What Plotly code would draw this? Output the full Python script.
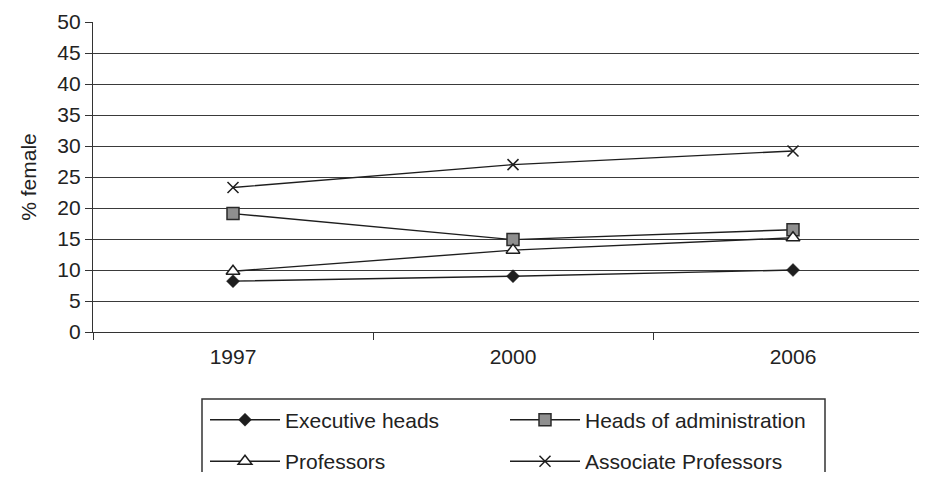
import plotly.graph_objects as go

years = ["1997", "2000", "2006"]
executive_heads = [8.2, 9.0, 10.0]
heads_of_admin = [19.1, 14.9, 16.5]
professors = [9.8, 13.2, 15.2]
associate_professors = [23.3, 27.0, 29.2]
y_ticks = list(range(0, 55, 5))

FONT = "Liberation Sans, Arial, sans-serif"
INK = "#1e1e1e"

fig = go.Figure()

fig.add_trace(go.Scatter(
    x=years, y=executive_heads, name="Executive heads", mode="lines+markers",
    line=dict(color=INK, width=1.4),
    marker=dict(symbol="diamond", size=10, color=INK, line=dict(color=INK, width=0.5)),
    legend="legend",
))
fig.add_trace(go.Scatter(
    x=years, y=heads_of_admin, name="Heads of administration", mode="lines+markers",
    line=dict(color=INK, width=1.4),
    marker=dict(symbol="square", size=12, color="#8f8f8f", line=dict(color="#2a2a2a", width=1.5)),
    legend="legend2",
))
fig.add_trace(go.Scatter(
    x=years, y=professors, name="Professors", mode="lines+markers",
    line=dict(color=INK, width=1.4),
    marker=dict(symbol="triangle-up", size=12, color="white", line=dict(color=INK, width=1.5)),
    legend="legend3",
))
fig.add_trace(go.Scatter(
    x=years, y=associate_professors, name="Associate Professors", mode="lines+markers",
    line=dict(color=INK, width=1.4),
    marker=dict(symbol="x-thin", size=11, color=INK, line=dict(color=INK, width=1.5)),
    legend="legend4",
))

leg_common = dict(
    orientation="h", xanchor="left", yanchor="middle",
    font=dict(family=FONT, size=21, color="#222222"),
    bgcolor="rgba(0,0,0,0)", borderwidth=0,
    itemwidth=70,
)

PW = 826  # plot-area width in px
# page body has an 8px margin: figure sized to fit the window without overflow
fig.update_layout(
    width=911, height=464,
    margin=dict(l=85, r=0, t=14, b=140, autoexpand=False),
    paper_bgcolor="white", plot_bgcolor="white",
    font=dict(family=FONT, size=21, color="#222222"),
    showlegend=True,
    legend=dict(x=(205 - 93) / PW, y=-0.284, **leg_common),
    legend2=dict(x=(505 - 93) / PW, y=-0.284, **leg_common),
    legend3=dict(x=(205 - 93) / PW, y=-0.418, **leg_common),
    legend4=dict(x=(505 - 93) / PW, y=-0.418, **leg_common),
    xaxis=dict(
        type="category", range=[-0.5, 2.45], automargin=False,
        tickson="boundaries", ticks="outside", ticklen=7, tickcolor="#333333", tickwidth=1.2,
        showline=True, linecolor="#333333", linewidth=1.2,
        showgrid=False, zeroline=False, ticklabelstandoff=6,
        tickfont=dict(family=FONT, size=21, color="#222222"),
    ),
    yaxis=dict(
        range=[0, 50], tickvals=y_ticks, automargin=False,
        ticks="outside", ticklen=7, tickcolor="#333333", tickwidth=1.2,
        showline=True, linecolor="#333333", linewidth=1.2,
        showgrid=True, gridcolor="#3a3a3a", gridwidth=1.2, zeroline=False,
        tickfont=dict(family=FONT, size=21, color="#222222"),
        title=dict(text="% female", font=dict(family=FONT, size=21, color="#222222"), standoff=14),
    ),
    shapes=[dict(
        type="rect", xref="paper", yref="paper",
        x0=(202 - 93) / PW, x1=(825 - 93) / PW,
        y0=-0.216, y1=-0.55,
        line=dict(color="#333333", width=1.5), fillcolor="rgba(0,0,0,0)", layer="below",
    )],
)

fig.write_html("out.html")
